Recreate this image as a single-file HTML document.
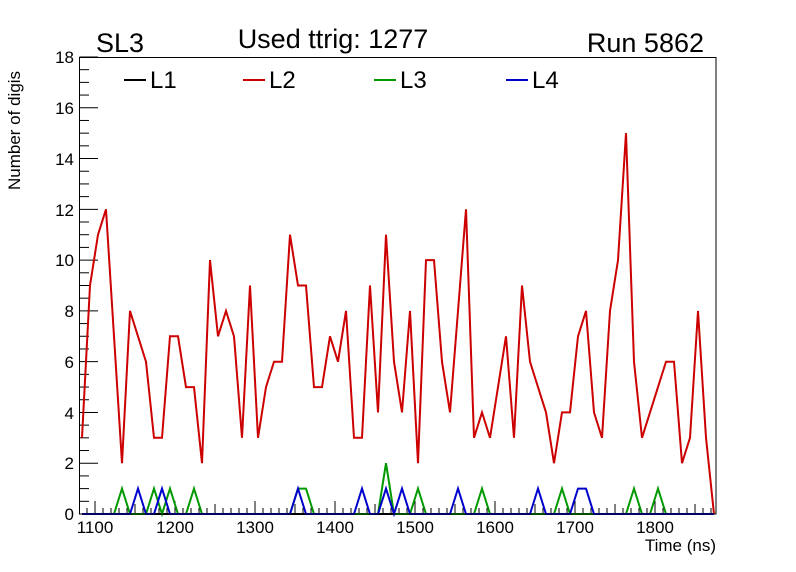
<!DOCTYPE html>
<html><head><meta charset="utf-8"><style>
html,body{margin:0;padding:0;background:#fff;}
svg{display:block;font-family:"Liberation Sans",sans-serif;}
</style></head><body>
<svg id="s" width="796" height="572" viewBox="0 0 796 572" xmlns="http://www.w3.org/2000/svg">
<rect width="796" height="572" fill="#fff"/>
<g id="ticks" stroke="#000" stroke-width="1"></g>
<g id="series" fill="none" stroke-width="2" stroke-linejoin="miter"></g>
<rect x="79.5" y="57.5" width="636.5" height="456.5" fill="none" stroke="#000" stroke-width="1"/>
<g font-size="17" text-anchor="end" fill="#000">
<text x="74" y="520">0</text><text x="74" y="469">2</text><text x="74" y="419">4</text>
<text x="74" y="368">6</text><text x="74" y="317">8</text><text x="74" y="266">10</text>
<text x="74" y="216">12</text><text x="74" y="165">14</text><text x="74" y="114">16</text>
<text x="74" y="63">18</text>
</g>
<g font-size="17" text-anchor="middle" fill="#000">
<text x="95" y="533">1100</text><text x="175" y="533">1200</text><text x="255" y="533">1300</text>
<text x="335" y="533">1400</text><text x="415" y="533">1500</text><text x="495" y="533">1600</text>
<text x="575" y="533">1700</text><text x="655" y="533">1800</text>
</g>
<text x="716" y="551" font-size="17" text-anchor="end">Time (ns)</text>
<text transform="translate(20,190) rotate(-90)" font-size="17">Number of digis</text>
<text x="96" y="52" font-size="27">SL3</text>
<text x="333" y="48" font-size="27" text-anchor="middle">Used ttrig: 1277</text>
<text x="704" y="52" font-size="27" text-anchor="end">Run 5862</text>
<g font-size="24">
<line x1="124" y1="80" x2="146" y2="80" stroke="#000" stroke-width="2"/><text x="150" y="88">L1</text>
<line x1="243" y1="80" x2="265" y2="80" stroke="#cc0000" stroke-width="2"/><text x="269" y="88">L2</text>
<line x1="374" y1="80" x2="396" y2="80" stroke="#009900" stroke-width="2"/><text x="400" y="88">L3</text>
<line x1="506" y1="80" x2="528" y2="80" stroke="#0000cc" stroke-width="2"/><text x="532" y="88">L4</text>
</g>
</svg>
<script>
var NS="http://www.w3.org/2000/svg";
var tk=document.getElementById("ticks"), sr=document.getElementById("series");
function ln(x1,y1,x2,y2){var l=document.createElementNS(NS,"line");l.setAttribute("x1",x1);l.setAttribute("y1",y1);l.setAttribute("x2",x2);l.setAttribute("y2",y2);tk.appendChild(l);}
function Y(v){return 514-25.39*v;}
for(var i=0;i<=36;i++){var y=Y(i*0.5);ln(79.5,y,(i%4==0)?98:89,y);}
for(var n=1090;n<=1870;n+=10){var x=95+(n-1100)*0.8; if(x<80||x>716)continue; var L=(n%100==0)?13:(n%50==0?10:6); ln(x,514,x,514-L);}
var red=[3,9,11,12,7,2,8,7,6,3,3,7,7,5,5,2,10,7,8,7,3,9,3,5,6,6,11,9,9,5,5,7,6,8,3,3,9,4,11,6,4,8,2,10,10,6,4,8,12,3,4,3,5,7,3,9,6,5,4,2,4,4,7,8,4,3,8,10,15,6,3,4,5,6,6,2,3,8,3,0];
function arr(m){var a=[];for(var i=0;i<80;i++)a.push(0);for(var k in m)a[k]=m[k];return a;}
var green=arr({5:1,9:1,11:1,14:1,27:1,28:1,38:2,42:1,50:1,60:1,69:1,72:1});
var blue=arr({7:1,10:1,27:1,35:1,38:1,40:1,47:1,57:1,62:1,63:1});
function pl(a,c){var p=document.createElementNS(NS,"polyline");var s="";for(var k=0;k<a.length;k++){s+=(82+8*k)+","+Y(a[k]).toFixed(1)+" ";}p.setAttribute("points",s);p.setAttribute("stroke",c);sr.appendChild(p);}
pl(arr({}),"#000");pl(red,"#cc0000");pl(green,"#009900");pl(blue,"#0000cc");
</script>
</body></html>
